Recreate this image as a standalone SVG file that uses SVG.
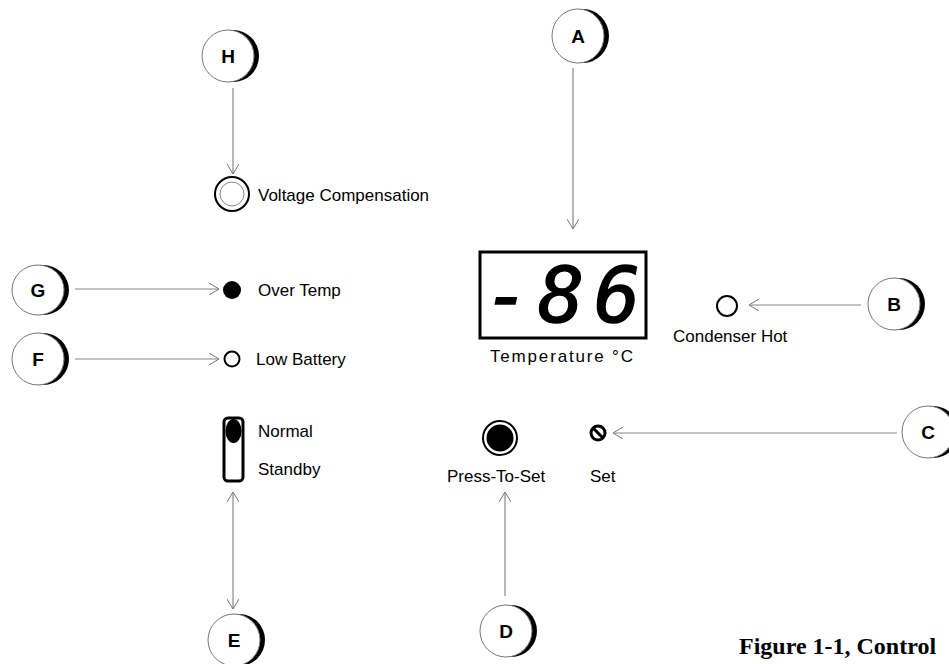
<svg xmlns="http://www.w3.org/2000/svg" width="949" height="664" viewBox="0 0 949 664">
<style>
.lbl{font-family:"Liberation Sans",Arial,sans-serif;font-size:17px;fill:#000}
.cl{font-family:"Liberation Sans",Arial,sans-serif;font-size:19px;font-weight:bold;fill:#000;text-anchor:middle}
.ring{fill:#fff;stroke:#777;stroke-width:1}
.shadow{fill:#000}
.conn line{stroke:#888;stroke-width:1.2;fill:none}
</style>
<defs>
<marker id="arr" viewBox="0 0 10 12" refX="10" refY="6" markerWidth="10" markerHeight="12" markerUnits="userSpaceOnUse" orient="auto-start-reverse">
<path d="M0,0 L10,6 L0,12" fill="none" stroke="#777" stroke-width="1"/>
</marker>
</defs>
<rect width="949" height="664" fill="#fff"/>

<g class="conn" id="connectors">
<line x1="233" y1="88" x2="233" y2="174" marker-end="url(#arr)"/>
<line x1="573" y1="68" x2="573" y2="229" marker-end="url(#arr)"/>
<line x1="861" y1="305" x2="749" y2="305" marker-end="url(#arr)"/>
<line x1="897" y1="433" x2="613" y2="433" marker-end="url(#arr)"/>
<line x1="505" y1="596" x2="505" y2="492" marker-end="url(#arr)"/>
<line x1="233" y1="492" x2="233" y2="609" marker-start="url(#arr)" marker-end="url(#arr)"/>
<line x1="75" y1="289" x2="219" y2="289" marker-end="url(#arr)"/>
<line x1="75" y1="359" x2="219" y2="359" marker-end="url(#arr)"/>
</g>

<g id="callout-H"><ellipse class="shadow" cx="233" cy="56" rx="26" ry="26"/><ellipse class="ring" cx="228" cy="56" rx="26" ry="26"/><text class="cl" x="228" y="63">H</text></g>
<g id="callout-A"><ellipse class="shadow" cx="583" cy="36" rx="26" ry="27"/><ellipse class="ring" cx="578" cy="36" rx="26" ry="27"/><text class="cl" x="578" y="43">A</text></g>
<g id="callout-B"><ellipse class="shadow" cx="899" cy="304" rx="26" ry="26"/><ellipse class="ring" cx="894" cy="304" rx="26" ry="26"/><text class="cl" x="894" y="311">B</text></g>
<g id="callout-C"><ellipse class="shadow" cx="933" cy="432" rx="26" ry="26"/><ellipse class="ring" cx="928" cy="432" rx="26" ry="26"/><text class="cl" x="928" y="439">C</text></g>
<g id="callout-D"><ellipse class="shadow" cx="511" cy="631" rx="26" ry="26"/><ellipse class="ring" cx="506" cy="631" rx="26" ry="26"/><text class="cl" x="506" y="638">D</text></g>
<g id="callout-E"><ellipse class="shadow" cx="239" cy="640" rx="26" ry="26"/><ellipse class="ring" cx="234" cy="640" rx="26" ry="26"/><text class="cl" x="234" y="647">E</text></g>
<g id="callout-G"><ellipse class="shadow" cx="43" cy="290" rx="26" ry="25"/><ellipse class="ring" cx="38" cy="290" rx="26" ry="25"/><text class="cl" x="38" y="297">G</text></g>
<g id="callout-F"><ellipse class="shadow" cx="43" cy="359" rx="26" ry="26"/><ellipse class="ring" cx="38" cy="359" rx="26" ry="26"/><text class="cl" x="38" y="366">F</text></g>

<g id="voltage-compensation">
<circle cx="232" cy="194" r="17" fill="#fff" stroke="#000" stroke-width="2"/>
<circle cx="232" cy="194" r="12" fill="none" stroke="#888" stroke-width="1"/>
<text class="lbl" x="258" y="201">Voltage Compensation</text>
</g>

<g id="display">
<rect x="480" y="252" width="166" height="86" fill="#fff" stroke="#000" stroke-width="3"/>
<text y="322" font-family="DejaVu Sans Mono,monospace" font-style="italic" font-size="77" fill="#000" stroke="#000" stroke-width="1.5"><tspan x="484">-</tspan><tspan x="538">8</tspan><tspan x="594">6</tspan></text>
<text class="lbl" x="490" y="362" textLength="143" lengthAdjust="spacing">Temperature °C</text>
</g>

<g id="condenser-hot">
<circle cx="727" cy="306" r="10" fill="#fff" stroke="#000" stroke-width="2"/>
<text class="lbl" x="673" y="342">Condenser Hot</text>
</g>

<g id="over-temp">
<circle cx="232" cy="290" r="9" fill="#000"/>
<text class="lbl" x="258" y="296">Over Temp</text>
</g>

<g id="low-battery">
<circle cx="232" cy="359" r="7.5" fill="#fff" stroke="#000" stroke-width="2"/>
<text class="lbl" x="256" y="365">Low Battery</text>
</g>

<g id="switch">
<rect x="224" y="418" width="19" height="63" rx="4" fill="#fff" stroke="#000" stroke-width="3"/>
<ellipse cx="233.5" cy="431" rx="8" ry="12" fill="#000"/>
<text class="lbl" x="258" y="437">Normal</text>
<text class="lbl" x="258" y="475">Standby</text>
</g>

<g id="press-to-set">
<circle cx="500" cy="438" r="17" fill="#fff" stroke="#000" stroke-width="2"/>
<circle cx="500" cy="438" r="13.5" fill="#000"/>
<text class="lbl" x="447" y="482">Press-To-Set</text>
</g>

<g id="set">
<circle cx="598" cy="433" r="7" fill="#fff" stroke="#000" stroke-width="3"/>
<line x1="593" y1="428" x2="603" y2="438" stroke="#000" stroke-width="3"/>
<text class="lbl" x="590" y="482">Set</text>
</g>

<text id="caption" x="739" y="654" font-family="Liberation Serif,'Times New Roman',serif" font-weight="bold" font-size="24" fill="#000">Figure 1-1, Control</text>
</svg>
